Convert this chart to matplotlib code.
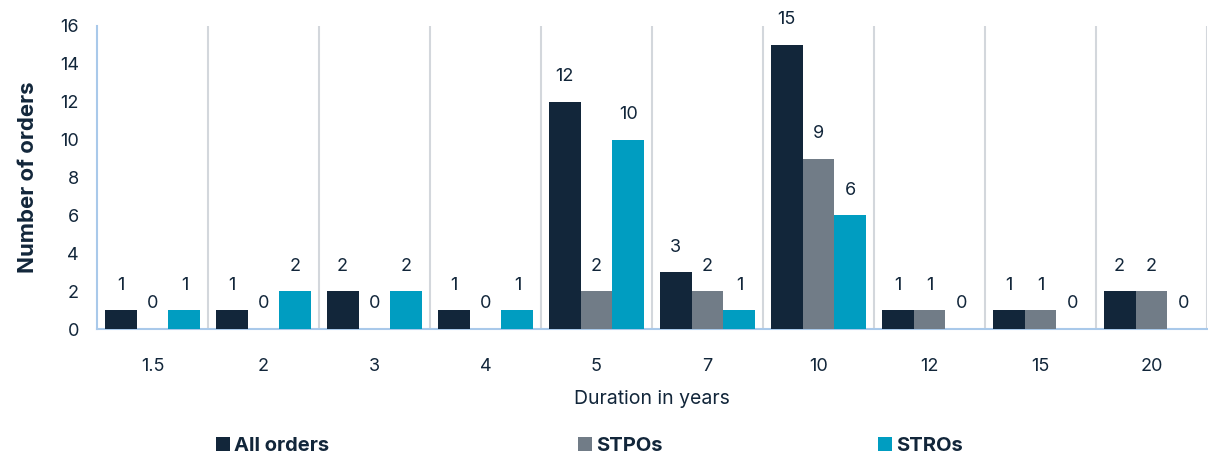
import matplotlib
matplotlib.use("Agg")
import matplotlib.pyplot as plt
import numpy as np
from matplotlib.patches import Patch

plt.rcParams['font.family'] = ['Inter', 'DejaVu Sans']

categories = ["1.5", "2", "3", "4", "5", "7", "10", "12", "15", "20"]
all_orders = [1, 1, 2, 1, 12, 3, 15, 1, 1, 2]
stpos = [0, 0, 0, 0, 2, 2, 9, 1, 1, 2]
stros = [1, 2, 2, 1, 10, 1, 6, 0, 0, 0]
series_names = ["All orders", "STPOs", "STROs"]
colors = ["#12263A", "#717C87", "#009DC1"]
text_color = "#12263A"

fig = plt.figure(figsize=(12.08, 4.54), dpi=100)
ax = fig.add_axes([97/1208, 1 - 329/454, (1207 - 97)/1208, (329 - 26)/454])

x = np.arange(len(categories))
w = 0.288
for i, (vals, c) in enumerate(zip([all_orders, stpos, stros], colors)):
    pos = x + (i - 1) * w
    ax.bar(pos, vals, width=w, color=c, zorder=3)
    for p, v in zip(pos, vals):
        ax.annotate(str(v), (p, v), xytext=(0, 18), textcoords="offset points",
                    ha="center", va="center", fontsize=13, color=text_color)

ax.set_xlim(-0.5, len(categories) - 0.5)
ax.set_ylim(0, 16)
ax.set_yticks(np.arange(0, 17, 2))
ax.set_xticks(x)
ax.set_xticklabels(categories)
ax.tick_params(axis="both", length=0, labelsize=13, colors=text_color)
ax.tick_params(axis="x", pad=21)
ax.tick_params(axis="y", pad=13)

for b in np.arange(0.5, len(categories) - 0.5, 1.0):
    ax.axvline(b, color="#D3D7DC", lw=1.5, zorder=1)
ax.axvline(len(categories) - 0.5, color="#D3D7DC", lw=1.5, zorder=1)

for s in ["top", "right"]:
    ax.spines[s].set_visible(False)
for s in ["left", "bottom"]:
    ax.spines[s].set_color("#A9C9EA")
    ax.spines[s].set_linewidth(1.5)

ax.set_ylabel("Number of orders", fontsize=16, fontweight="bold", color=text_color, labelpad=16)
ax.set_xlabel("Duration in years", fontsize=14, color=text_color, labelpad=11)

legend_x = [216/1208, 578/1208, 878/1208]
for n, c, lx in zip(series_names, colors, legend_x):
    leg = fig.legend(handles=[Patch(facecolor=c, label=n)], loc="center left",
                     bbox_to_anchor=(lx, 1 - 446/454), frameon=False, borderpad=0,
                     borderaxespad=0, handlelength=0.7, handleheight=0.7, handletextpad=0.2,
                     prop={"weight": "bold", "size": 14.5})
    for t in leg.get_texts():
        t.set_color(text_color)

fig.savefig("out.png", dpi=100)
